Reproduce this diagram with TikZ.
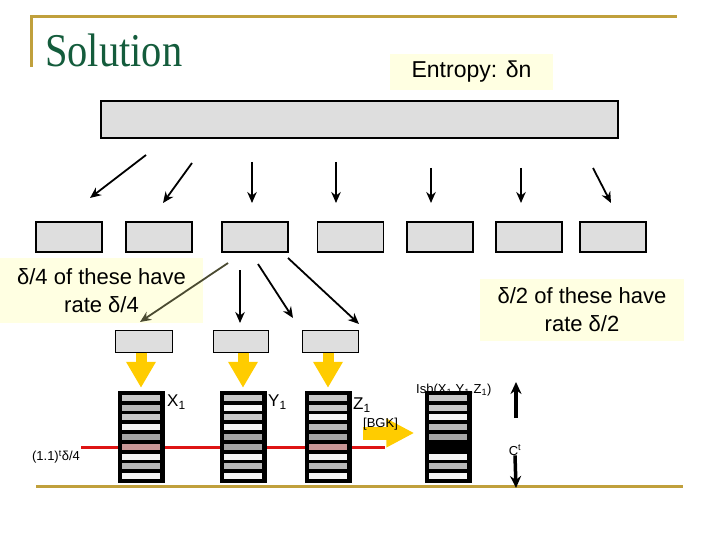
\documentclass[tikz,border=0pt]{standalone}
\usepackage{fontspec}
\setmainfont{Liberation Serif}
\setsansfont{Liberation Sans}
\usepackage{tikz}
\usetikzlibrary{arrows.meta, positioning, calc}
\definecolor{goldline}{RGB}{192, 160, 60}
\definecolor{titlegreen}{RGB}{20, 92, 60}
\definecolor{paleyellow}{RGB}{255, 255, 226}
\definecolor{arrowyellow}{RGB}{255, 204, 0}
\definecolor{boxgray}{RGB}{222, 222, 222}
\definecolor{olivearrow}{RGB}{75, 75, 50}
\definecolor{stripeL}{RGB}{200, 200, 200}
\definecolor{stripeM}{RGB}{184, 184, 184}
\definecolor{stripeD}{RGB}{165, 165, 165}
\definecolor{stripeW}{RGB}{246, 246, 246}
\definecolor{stripeP}{RGB}{200, 150, 150}
\definecolor{stripeK}{RGB}{0, 0, 0}
\definecolor{redline}{RGB}{222, 20, 20}
\tikzset{
  >=Stealth,
  graybox/.style={draw, line width=1.6pt, fill=boxgray, inner sep=0pt},
  blackarrow/.style={-{Stealth[length=11pt, width=9.5pt]}, line width=1.8pt},
  bigarrow/.style={-{Stealth[length=12pt, width=11pt]}, line width=3.5pt},
  fatarrow/.style={-{Triangle[length=26pt, width=28pt]}, line width=11pt, arrowyellow},
  notebox/.style={fill=paleyellow, font=\sffamily\fontsize{22}{28}\selectfont, align=center, inner sep=0pt},
  smalllabel/.style={font=\sffamily\fontsize{13}{15}\selectfont, inner sep=0pt},
  collabel/.style={font=\sffamily\fontsize{17}{20}\selectfont, inner sep=0pt, anchor=north west},
  stripecol/.style={fill=black, minimum width=47pt, minimum height=92pt, inner sep=0pt},
  goldrule/.style={line width=3pt, goldline}
}

\begin{document}
\begin{tikzpicture}[x=1pt, y=-1pt]
    \useasboundingbox (0,0) rectangle (720,540);

    % frame of the slide
    \draw[goldrule] (30,17) -- (677,17);
    \draw[goldrule] (31,17) -- (31,67);
    \draw[goldrule] (36,486) -- (683,486);
    \node (title) [anchor=base west, inner sep=0pt, text=titlegreen] at (45,67)
        {\scalebox{0.86}[1]{\fontsize{47}{50}\selectfont Solution}};

    \node (entropy) [notebox, font=\sffamily\fontsize{23}{27}\selectfont, minimum width=163pt, minimum height=36pt] at (471.5,72) {Entropy: δn};

    % source and its pieces
    \node (top) [graybox, minimum width=517pt, minimum height=37pt] at (359.5,119.5) {};
    \foreach \x [count=\i] in {69, 159, 255, 350.5, 440, 529, 613}
        \node (b\i) [graybox, minimum width=66pt, minimum height=30pt] at (\x,237) {};

    \foreach \i/\sx/\sy/\ex/\ey in {1/146/155/90/198, 2/192/163/163/203, 3/252/162/252/203, 4/336/162/336/203,
                                   5/431/168/431/203, 6/521/168/521/203, 7/593/168/611/203} {
        \coordinate (s\i) at (\sx,\sy);
        \coordinate (e\i) at (\ex,\ey);
        \draw[blackarrow] (s\i) -- (e\i);
    }

    \node (quarter) [notebox, minimum width=203pt, minimum height=65pt] at (101.5,290.5) {δ/4 of these have\\rate δ/4};
    \node (half) [notebox, minimum width=204pt, minimum height=62pt] at (582,310) {δ/2 of these have\\rate δ/2};

    % second level
    \node (c1) [graybox, line width=1pt, minimum width=57pt, minimum height=22pt] at (143.5,341) {};
    \node (c2) [graybox, line width=1pt, minimum width=55pt, minimum height=22pt] at (240.5,341) {};
    \node (c3) [graybox, line width=1pt, minimum width=56pt, minimum height=22pt] at (330,341) {};

    \coordinate (s8) at (228,263);
    \coordinate (e8) at (140,322);
    \draw[blackarrow, olivearrow] (s8) -- (e8);
    \foreach \i/\sx/\sy/\ex/\ey in {9/240/270/240/323, 10/258/264/293/318, 11/288/258/359/324} {
        \coordinate (s\i) at (\sx,\sy);
        \coordinate (e\i) at (\ex,\ey);
        \draw[blackarrow] (s\i) -- (e\i);
    }

    % threshold line
    \coordinate (redstart) at (81,447);
    \coordinate (redend) at (385,447);
    \draw[redline, line width=3pt] (redstart) -- (redend);
    \node (rate) [smalllabel] at (56,457) {(1.1)\textsuperscript{t}δ/4};

    \node (isblabel) [smalllabel, anchor=base west] at (416,393.5) {Isb(X\textsubscript{1},Y\textsubscript{1},Z\textsubscript{1})};

    % striped columns
    \node (col1) [stripecol] at (141,437) {};
    \node (col2) [stripecol] at (243,437) {};
    \node (col3) [stripecol] at (328,437) {};
    \node (col4) [stripecol] at (448,437) {};
    \foreach \c [count=\i] in {stripeL, stripeM, stripeL, stripeW, stripeD, stripeP, stripeW, stripeM, stripeW}
        \fill[\c] ($(col1.north west)+(4.5,4+9.8*\i-9.8)$) rectangle ++(38,6);
    \foreach \c [count=\i] in {stripeL, stripeW, stripeL, stripeW, stripeD, stripeD, stripeW, stripeM, stripeW}
        \fill[\c] ($(col2.north west)+(4.5,4+9.8*\i-9.8)$) rectangle ++(38,6);
    \foreach \c [count=\i] in {stripeL, stripeL, stripeW, stripeM, stripeD, stripeP, stripeW, stripeM, stripeW}
        \fill[\c] ($(col3.north west)+(4.5,4+9.8*\i-9.8)$) rectangle ++(38,6);
    \foreach \c [count=\i] in {stripeL, stripeL, stripeW, stripeM, stripeD, stripeK, stripeW, stripeM, stripeW}
        \fill[\c] ($(col4.north west)+(4.5,4+9.8*\i-9.8)$) rectangle ++(38,6);

    \draw[fatarrow] (col1.north |- c1.south) -- ([yshift=3pt]col1.north);
    \draw[fatarrow] (col2.north |- c2.south) -- ([yshift=3pt]col2.north);
    \draw[fatarrow] (col3.north |- c3.south) -- ([yshift=3pt]col3.north);
    \draw[fatarrow, line width=13pt, -{Triangle[length=28pt, width=27pt]}] ([yshift=4pt, xshift=11pt]col3.east) -- ([yshift=4pt, xshift=-10pt]col4.west);

    \node (x1) [collabel] at (167,395) {X\textsubscript{1}};
    \node (y1) [collabel] at (268,395) {Y\textsubscript{1}};
    \node (z1) [collabel] at (353,398) {Z\textsubscript{1}};
    \node (bgk) [smalllabel, anchor=north west] at (363,418) {[BGK]};

    % capacity arrows
    \node (ct) [smalllabel] at (515,450) {C\textsuperscript{t}};
    \coordinate (ctup) at (516,418);
    \coordinate (cttop) at (516,382);
    \coordinate (ctbot) at (516,488);
    \draw[bigarrow] (ctup) -- (cttop);
    \draw[bigarrow] (ct.south) -- (ctbot);
\end{tikzpicture}
\end{document}
